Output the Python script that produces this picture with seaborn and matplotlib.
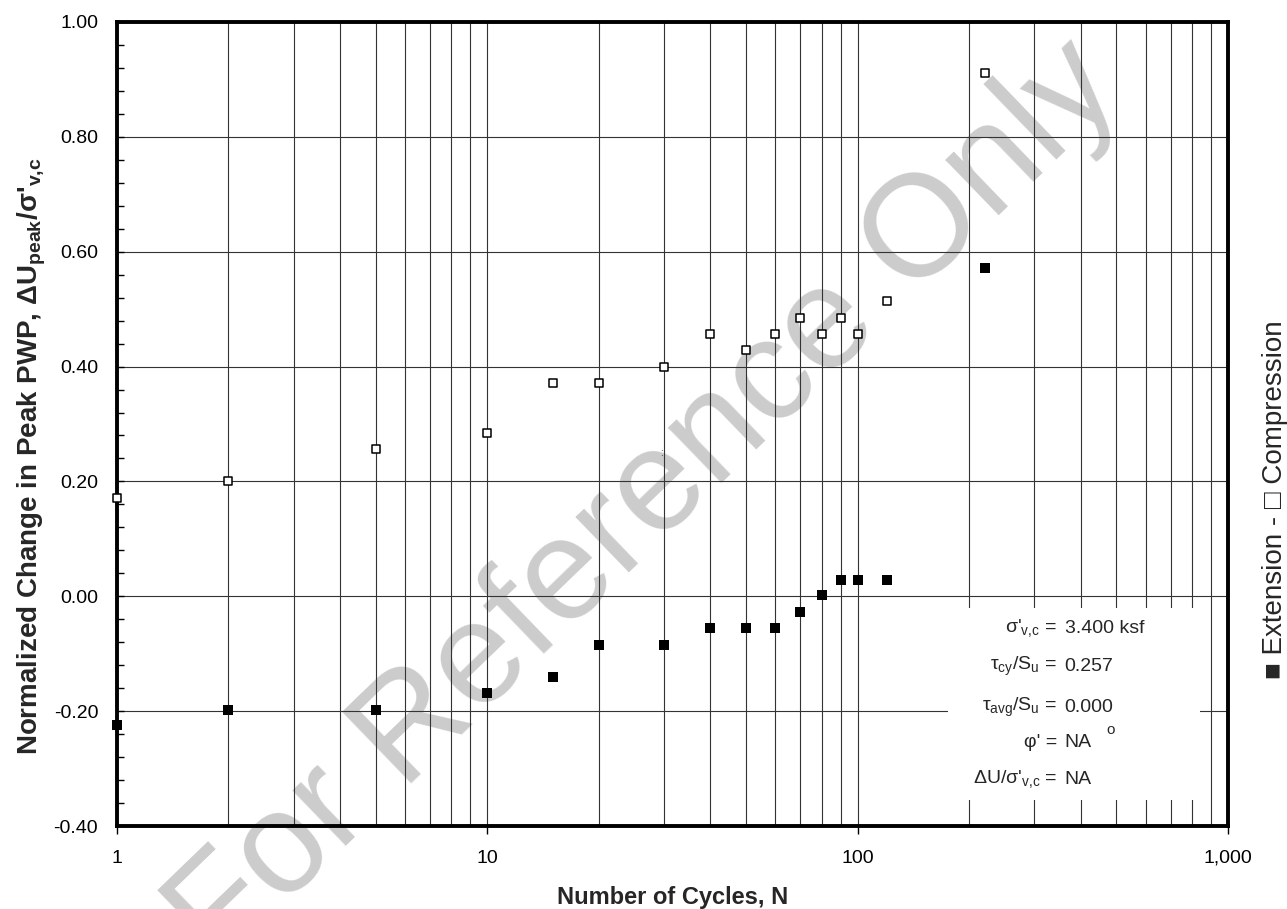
import seaborn as sns
import matplotlib.pyplot as plt
import matplotlib.ticker as mticker
from matplotlib.patches import Rectangle

# data
cycles = [1, 2, 5, 10, 15, 20, 30, 40, 50, 60, 70, 80, 90, 100, 120, 221]
compression = [0.172, 0.200, 0.256, 0.284, 0.372, 0.372, 0.399, 0.456, 0.428,
               0.456, 0.485, 0.456, 0.485, 0.456, 0.514, 0.912]
extension = [-0.224, -0.198, -0.198, -0.169, -0.141, -0.084, -0.084, -0.056,
             -0.056, -0.056, -0.027, 0.002, 0.028, 0.028, 0.028, 0.571]

x_ticks = [1, 10, 100, 1000]
x_tick_labels = ["1", "10", "100", "1,000"]
y_ticks = [-0.4, -0.2, 0.0, 0.2, 0.4, 0.6, 0.8, 1.0]

param_labels = ["σ'$_{\\rm v{,}c}$ =", "τ$_{\\rm cy}$/S$_{\\rm u}$ =",
                "τ$_{\\rm avg}$/S$_{\\rm u}$ =", "φ' =", "ΔU/σ'$_{\\rm v{,}c}$ ="]
param_values = ["3.400 ksf", "0.257", "0.000", "NA", "NA"]

sns.set_style("white")
plt.rcParams['font.family'] = ['Liberation Sans', 'DejaVu Sans']
plt.rcParams['mathtext.fontset'] = 'custom'
plt.rcParams['mathtext.rm'] = 'Liberation Sans'
plt.rcParams['mathtext.it'] = 'Liberation Sans:italic'
plt.rcParams['mathtext.bf'] = 'Liberation Sans:bold'

fig = plt.figure(figsize=(12.87, 9.09), dpi=100)
ax = fig.add_axes([0.0909, 0.0913, 0.8632, 0.8845])
ax.patch.set_alpha(0)

# watermark behind the plot
fig.text(0.502, 0.445, "For Reference Only", fontsize=104, color="#cccccc",
         rotation=44, ha="center", va="center", rotation_mode="anchor", zorder=-5)

sns.scatterplot(x=cycles, y=extension, marker="s", s=46, color="black",
                linewidth=0, ax=ax, clip_on=False, zorder=4)
sns.scatterplot(x=cycles, y=compression, marker="s", s=34, color="white",
                edgecolor="black", linewidth=1.1, ax=ax, clip_on=False, zorder=4)

ax.set_xscale("log")
ax.set_xlim(1, 1000)
ax.set_ylim(-0.4, 1.0)

ax.set_xticks(x_ticks)
ax.set_xticklabels(x_tick_labels)
ax.xaxis.set_minor_locator(mticker.LogLocator(base=10, subs=range(2, 10)))
ax.xaxis.set_minor_formatter(mticker.NullFormatter())
ax.tick_params(axis="x", which="major", direction="out", length=6, width=1,
               pad=11, labelsize=14, bottom=True, colors="black")
ax.tick_params(axis="x", which="minor", length=0)

ax.set_yticks(y_ticks)
ax.set_yticklabels([f"{v:.2f}" for v in y_ticks])
ax.yaxis.set_minor_locator(mticker.MultipleLocator(0.04))
ax.tick_params(axis="y", which="both", direction="in", length=5, width=1,
               pad=13.5, labelsize=14, left=True, colors="black")

ax.grid(True, which="major", color="#333333", lw=0.8)
ax.grid(True, which="minor", axis="x", color="#333333", lw=0.8)
ax.set_axisbelow(True)

for sp in ax.spines.values():
    sp.set_linewidth(2.8)
    sp.set_color("black")

ax.set_xlabel("Number of Cycles, N", fontsize=17, fontweight="bold", labelpad=14)
ax.set_ylabel("Normalized Change in Peak PWP, ΔU$_{\\mathbf{peak}}$/σ'$_{\\mathbf{v{,}c}}$",
              fontsize=20, fontweight="bold")
ax.yaxis.set_label_coords(-0.062, 0.46)

# parameter box
ax.add_patch(Rectangle((0.748, 0.032), 0.227, 0.239, transform=ax.transAxes,
                       facecolor="white", edgecolor="none", zorder=1.5))
rows_y = [0.246, 0.198, 0.147, 0.104, 0.058]
for lab, val, yy in zip(param_labels, param_values, rows_y):
    ax.text(0.846, yy, lab, transform=ax.transAxes, ha="right", va="center", fontsize=14)
    ax.text(0.853, yy, val, transform=ax.transAxes, ha="left", va="center", fontsize=14)
ax.text(0.894, 0.119, "o", transform=ax.transAxes, ha="center", va="center", fontsize=11)

ax.text(29.6, 0.25, ":", ha="center", va="center", fontsize=7)

fig.text(0.9907, 0.45, "■ Extension - □ Compression", rotation=90,
         ha="center", va="center", fontsize=20)

fig.savefig("out.png", dpi=100)
